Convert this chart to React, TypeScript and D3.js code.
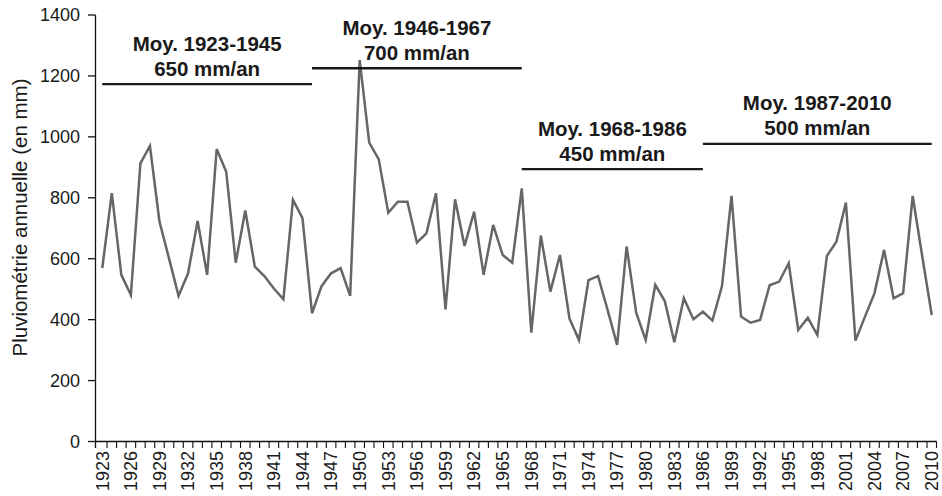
import React from "react";
import * as d3 from "d3";

const years: number[] = d3.range(1923, 2011);
const rainfall: number[] = [
  569, 815, 547, 481, 913, 970, 722, 601, 478, 552, 724, 547, 960, 885, 587, 758, 574, 543, 502, 467, 793, 733,
  421, 510, 552, 569, 478, 1252, 981, 926, 751, 787, 787, 653, 683, 815, 434, 795, 642, 754, 547, 711, 612, 587,
  831, 357, 676, 492, 612, 404, 333, 530, 543, 432, 317, 640, 423, 333, 514, 461, 326, 470, 401, 426, 397, 510,
  806, 410, 390, 399, 513, 525, 585, 366, 406, 350, 609, 656, 784, 331, 410, 487, 629, 470, 487, 806, 609, 415,
];
const yTicks: number[] = [0, 200, 400, 600, 800, 1000, 1200, 1400];
const xTickLabels: number[] = d3.range(1923, 2011, 3);
const periodStart: number[] = [1923, 1945, 1967, 1986];
const periodEnd: number[] = [1945, 1967, 1986, 2010];
const periodLineLevel: number[] = [1173, 1225, 894, 977];
const periodTitle: string[] = ["Moy. 1923-1945", "Moy. 1946-1967", "Moy. 1968-1986", "Moy. 1987-2010"];
const periodMean: string[] = ["650 mm/an", "700 mm/an", "450 mm/an", "500 mm/an"];
const yAxisTitle = "Pluviométrie annuelle (en mm)";

const W = 942;
const H = 496;
const plotLeft = 95.5;
const plotRight = 936.5;
const plotTop = 15;
const plotBottom = 441.5;
const FONT = "'Liberation Sans', Arial, Helvetica, sans-serif";

export default function App() {
  const x = d3.scaleLinear().domain([1922.5, 2010.5]).range([97.5, plotRight]);
  const y = d3.scaleLinear().domain([0, 1400]).range([plotBottom, plotTop]);
  const line = d3
    .line<number>()
    .x((_, i) => x(years[i]))
    .y((d) => y(d));
  const boundaryTicks = d3.range(1923.5, 2011, 1);

  return (
    <svg
      width={W}
      height={H}
      style={{ position: "absolute", left: 0, top: 0, background: "#fff" }}
      fontFamily={FONT}
    >
      <rect x={0} y={0} width={W} height={H} fill="#fff" />
      {/* y axis */}
      <line x1={plotLeft} x2={plotLeft} y1={plotTop} y2={plotBottom} stroke="#111" strokeWidth={1.3} />
      {yTicks.map((t) => (
        <g key={t}>
          <line x1={plotLeft - 7.5} x2={plotLeft} y1={y(t)} y2={y(t)} stroke="#111" strokeWidth={1.3} />
          <text x={80} y={y(t)} dy="0.35em" textAnchor="end" fontSize={18} fill="#1a1a1a">
            {t}
          </text>
        </g>
      ))}
      <text
        transform={`translate(27,${217.5}) rotate(-90)`}
        textAnchor="middle"
        fontSize={20.5}
        fill="#1a1a1a"
      >
        {yAxisTitle}
      </text>
      {/* x axis */}
      <line x1={plotLeft} x2={plotRight} y1={plotBottom} y2={plotBottom} stroke="#111" strokeWidth={1.3} />
      <line x1={plotLeft} x2={plotLeft} y1={plotBottom} y2={plotBottom + 6.5} stroke="#111" strokeWidth={1.3} />
      {boundaryTicks.map((t) => (
        <line key={t} x1={x(t)} x2={x(t)} y1={plotBottom} y2={plotBottom + 6.5} stroke="#111" strokeWidth={1.1} />
      ))}
      {xTickLabels.map((yr) => (
        <text
          key={yr}
          transform={`translate(${x(yr)},${451}) rotate(-90)`}
          textAnchor="end"
          dy="0.35em"
          fontSize={18}
          fill="#1a1a1a"
        >
          {yr}
        </text>
      ))}
      {/* data line */}
      <path d={line(rainfall) || ""} fill="none" stroke="#666" strokeWidth={2.5} strokeLinejoin="miter" />
      {/* period mean annotations */}
      {periodStart.map((s, i) => {
        const x1 = x(s);
        const x2 = x(periodEnd[i]);
        const ly = y(periodLineLevel[i]);
        const cx = (x1 + x2) / 2;
        return (
          <g key={s}>
            <line x1={x1} x2={x2} y1={ly} y2={ly} stroke="#1a1a1a" strokeWidth={2.4} />
            <text x={cx} y={ly - 33.5} textAnchor="middle" fontSize={20.5} fontWeight="bold" fill="#1a1a1a">
              {periodTitle[i]}
            </text>
            <text x={cx} y={ly - 8.5} textAnchor="middle" fontSize={20.5} fontWeight="bold" fill="#1a1a1a">
              {periodMean[i]}
            </text>
          </g>
        );
      })}
    </svg>
  );
}
